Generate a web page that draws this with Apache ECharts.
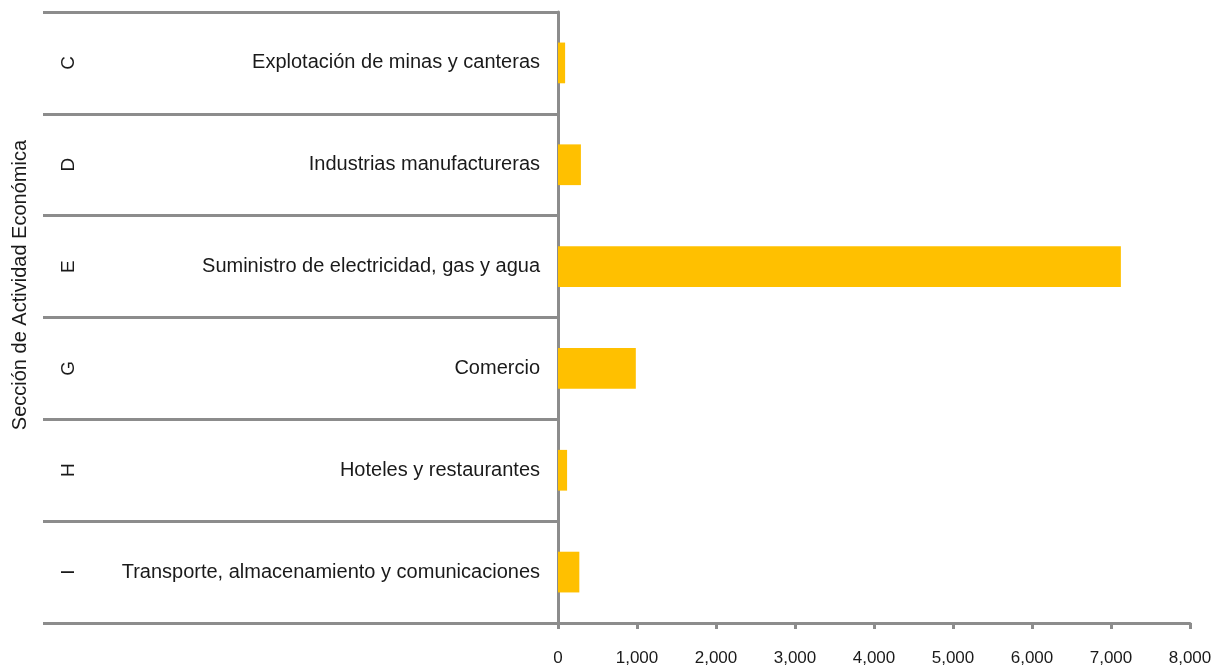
<!DOCTYPE html>
<html><head><meta charset="utf-8">
<script src="https://cdn.jsdelivr.net/npm/echarts@6/dist/echarts.min.js"></script>
<style>html,body{margin:0;padding:0;background:#fff}#c{width:1228px;height:669px}</style>
</head><body><div id="c"></div>
<script>
const sectionLetters = ['C', 'D', 'E', 'G', 'H', 'I'];
const sectionNames = [
  'Explotación de minas y canteras',
  'Industrias manufactureras',
  'Suministro de electricidad, gas y agua',
  'Comercio',
  'Hoteles y restaurantes',
  'Transporte, almacenamiento y comunicaciones'
];
const values = [90, 290, 7125, 985, 115, 270];
const xTicks = { min: 0, max: 8000, interval: 1000 };
const axisTitle = 'Sección de Actividad Económica';

const gray = '#8c8c8c';
const chart = echarts.init(document.getElementById('c'), null, { renderer: 'canvas' });
chart.setOption({
  animation: false,
  grid: { left: 558, right: 38, top: 12, bottom: 46, containLabel: false },
  xAxis: {
    type: 'value', min: xTicks.min, max: xTicks.max, interval: xTicks.interval,
    axisLine: { show: true, lineStyle: { color: gray, width: 3 } },
    axisTick: { show: true, length: 6, lineStyle: { color: gray, width: 3 } },
    splitLine: { show: false },
    axisLabel: {
      margin: 27, color: '#1a1a1a', fontSize: 17, fontFamily: 'Liberation Sans',
      formatter: v => v.toLocaleString('en-US')
    }
  },
  yAxis: [
    {
      type: 'category', data: sectionNames, inverse: true,
      axisLine: { show: true, lineStyle: { color: gray, width: 3 } },
      axisTick: { show: true, length: 515, alignWithLabel: false, lineStyle: { color: gray, width: 3 } },
      axisLabel: { margin: 18, padding: [5, 0, 0, 0], color: '#1a1a1a', fontSize: 20, fontFamily: 'Liberation Sans' }
    },
    {
      type: 'category', data: sectionLetters, inverse: true, position: 'left', offset: 480,
      axisLine: { show: false }, axisTick: { show: false },
      axisLabel: { rotate: 90, margin: 0, align: 'center', color: '#1a1a1a', fontSize: 19, fontFamily: 'Liberation Sans' }
    }
  ],
  graphic: [{
    type: 'text', left: 10, top: 140, rotation: Math.PI / 2,
    style: { text: axisTitle, fill: '#1a1a1a', font: '20px "Liberation Sans"' }
  }],
  series: [{
    type: 'bar', yAxisIndex: 0, data: values, barWidth: '40%',
    itemStyle: { color: '#FFC000' }
  }]
});
</script></body></html>
